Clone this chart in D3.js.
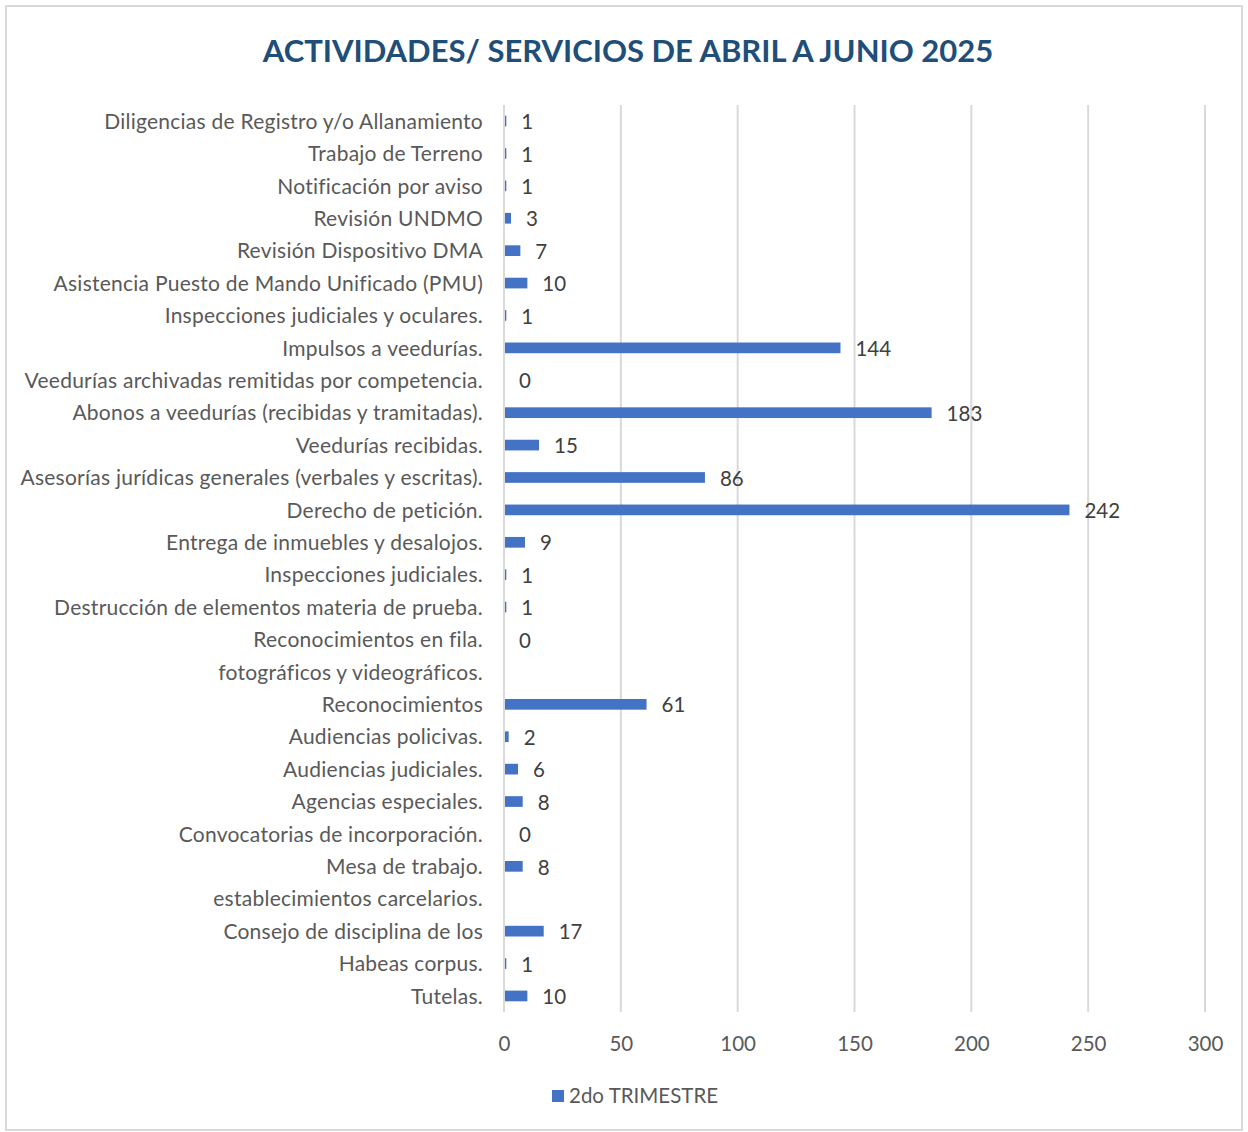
<!DOCTYPE html>
<html lang="es">
<head>
<meta charset="utf-8">
<title>Actividades / servicios abril a junio 2025</title>
<script src="https://cdn.jsdelivr.net/npm/d3@7"></script>
<style>
  body { margin: 0; background: #fff; }
  svg text { font-family: Lato, "Open Sans", sans-serif; }
</style>
</head>
<body>
<script>
// Categories top to bottom (two wrapped label rows carry no value)
var categories = [
  "Diligencias de Registro y/o Allanamiento",
  "Trabajo de Terreno",
  "Notificación por aviso",
  "Revisión UNDMO",
  "Revisión Dispositivo DMA",
  "Asistencia Puesto de Mando Unificado (PMU)",
  "Inspecciones judiciales y oculares.",
  "Impulsos a veedurías.",
  "Veedurías archivadas remitidas por competencia.",
  "Abonos a veedurías (recibidas y tramitadas).",
  "Veedurías recibidas.",
  "Asesorías jurídicas generales (verbales y escritas).",
  "Derecho de petición.",
  "Entrega de inmuebles y desalojos.",
  "Inspecciones judiciales.",
  "Destrucción de elementos materia de prueba.",
  "Reconocimientos en fila.",
  "fotográficos y videográficos.",
  "Reconocimientos",
  "Audiencias policivas.",
  "Audiencias judiciales.",
  "Agencias especiales.",
  "Convocatorias de incorporación.",
  "Mesa de trabajo.",
  "establecimientos carcelarios.",
  "Consejo de disciplina de los",
  "Habeas corpus.",
  "Tutelas."
];
var trimestre2 = [1, 1, 1, 3, 7, 10, 1, 144, 0, 183, 15, 86, 242, 9, 1, 1, 0, null, 61, 2, 6, 8, 0, 8, null, 17, 1, 10];
var xTicks = [0, 50, 100, 150, 200, 250, 300];
var seriesName = "2do TRIMESTRE";
var chartTitle = "ACTIVIDADES/ SERVICIOS DE ABRIL A JUNIO 2025";

var W = 1248, H = 1132;
var plotLeft = 504, plotRight = 1205, plotTop = 105, plotBottom = 1012;

var svg = d3.select("body").append("svg")
  .attr("width", W).attr("height", H);

// chart frame
svg.append("rect")
  .attr("x", 6).attr("y", 6).attr("width", 1236).attr("height", 1124)
  .attr("fill", "#fff").attr("stroke", "#d9d9d9").attr("stroke-width", 2);

svg.append("text")
  .attr("x", 628).attr("y", 62)
  .attr("text-anchor", "middle")
  .attr("font-size", 31).attr("font-weight", "bold")
  .attr("fill", "#1f4e79")
  .text(chartTitle);

var x = d3.scaleLinear().domain([0, 300]).range([plotLeft, plotRight]);
var y = d3.scaleBand().domain(categories).range([plotTop, plotBottom]).paddingInner(0.67).paddingOuter(0.33);

var rows = categories.map(function(c, i) { return { name: c, value: trimestre2[i] }; });

// gridlines
svg.append("g").selectAll("line").data(xTicks).enter().append("line")
  .attr("x1", function(d) { return x(d); }).attr("x2", function(d) { return x(d); })
  .attr("y1", plotTop).attr("y2", plotBottom)
  .attr("stroke", "#d9d9d9").attr("stroke-width", 2);

// x axis labels
var xAxis = d3.axisBottom(x).tickValues(xTicks).tickSize(0).tickPadding(0);
var gx = svg.append("g").attr("transform", "translate(0,1051)").call(xAxis);
gx.select(".domain").remove();
gx.selectAll("text").attr("font-size", 20.5).attr("fill", "#595959").attr("dy", 0)
  .attr("font-family", "Lato, 'Open Sans', sans-serif");

// category labels
var yAxis = d3.axisLeft(y).tickSize(0).tickPadding(0);
var gy = svg.append("g").attr("transform", "translate(483,1)").call(yAxis);
gy.select(".domain").remove();
gy.selectAll("text").attr("font-size", 21).attr("fill", "#595959")
  .attr("letter-spacing", 0.25)
  .attr("font-family", "Lato, 'Open Sans', sans-serif");

var withValue = rows.filter(function(d) { return d.value !== null; });

// bars
svg.append("g").selectAll("rect").data(withValue).enter().append("rect")
  .attr("x", x(0) + 1)
  .attr("y", function(d) { return y(d.name); })
  .attr("width", function(d) { return Math.max(0, x(d.value) - x(0) - 1); })
  .attr("height", y.bandwidth())
  .attr("fill", "#4472c4");

// value labels
svg.append("g").selectAll("text").data(withValue).enter().append("text")
  .attr("x", function(d) { return x(d.value) + 15; })
  .attr("y", function(d) { return y(d.name) + y.bandwidth() / 2 + 1; })
  .attr("dy", "0.35em")
  .attr("font-size", 20.5).attr("fill", "#404040")
  .text(function(d) { return d.value; });

// legend
var lg = svg.append("g").attr("transform", "translate(552,1090)");
lg.append("rect").attr("width", 12).attr("height", 12).attr("fill", "#4472c4");
lg.append("text").attr("x", 17).attr("y", 6).attr("dy", "0.35em")
  .attr("font-size", 20.5).attr("fill", "#595959").text(seriesName);
</script>
</body>
</html>
